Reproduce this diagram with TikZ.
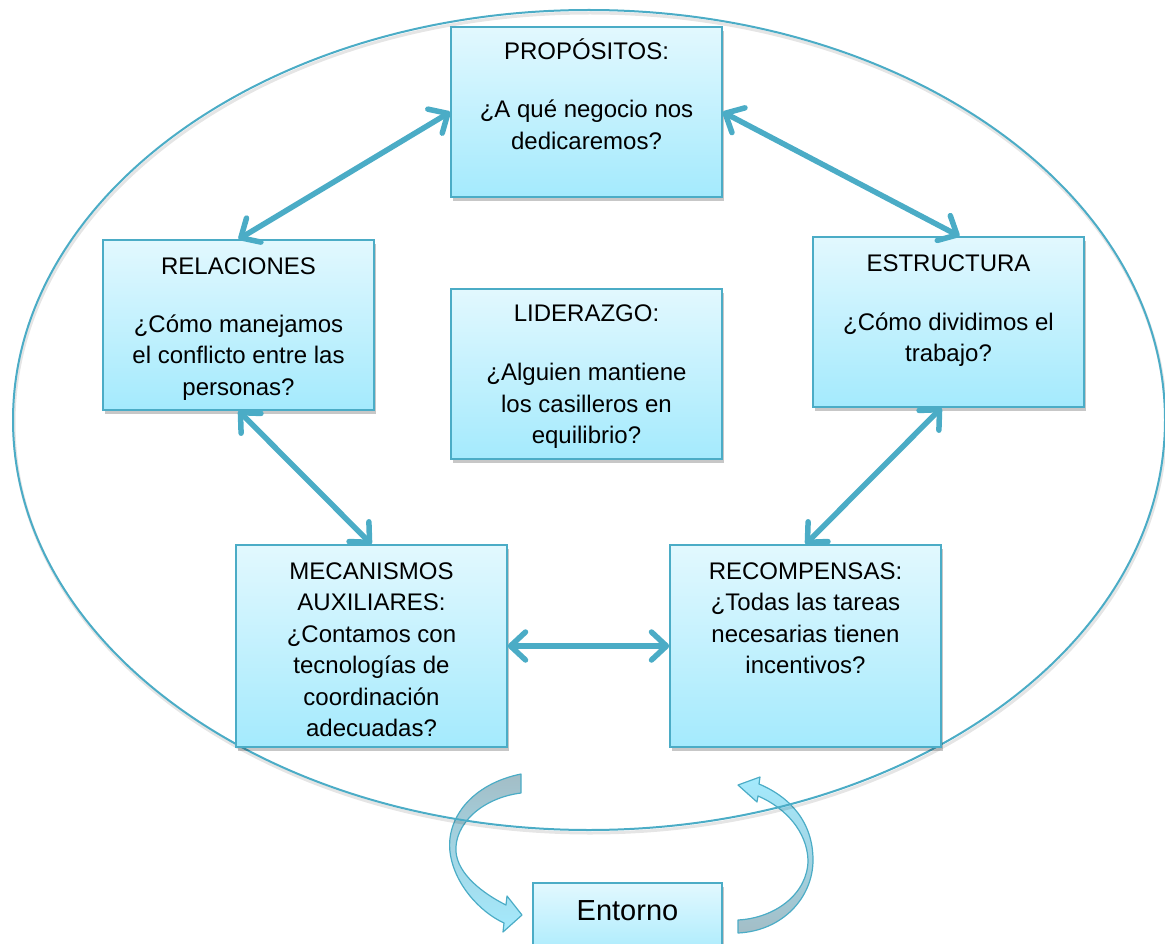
\documentclass[tikz,border=0pt]{standalone}
\usepackage{fontspec}
\setmainfont{Liberation Sans}
\usetikzlibrary{arrows.meta,shadows}
\definecolor{aqua}{HTML}{4BACC6}
\definecolor{boxtop}{HTML}{E2F8FE}
\definecolor{boxbot}{HTML}{A4EAFD}
\definecolor{ribgray}{HTML}{A3BDC6}

\begin{document}
\begin{tikzpicture}[x=1pt,y=-1pt,
  panel/.style={draw=aqua, line width=1.5pt, top color=boxtop, bottom color=boxbot,
    minimum width=271pt, minimum height=170pt, inner sep=0pt,
    drop shadow={shadow xshift=2pt, shadow yshift=-4pt, opacity=0.22, fill=black}},
  tall/.style={minimum height=202pt},
  boxtext/.style={anchor=north, inner sep=0pt, align=center,
    font=\fontsize{24}{31.5}\selectfont},
  duo/.style={draw=aqua, line width=5.5pt, line cap=round,
    {Straight Barb[length=15pt,width=28pt,round]}-{Straight Barb[length=15pt,width=28pt,round]}},
  ribbon/.style={draw=aqua, line width=1.2pt, line join=round}
]
\clip (0,0) rectangle (1165,944);

% curved arrows to and from the environment
\path[ribbon, top color=ribgray, bottom color=boxbot, middle color=ribgray!45!boxbot]
  (521,774) .. controls (472,784) and (446,818) .. (450,852)
  .. controls (454,884) and (480,912) .. (504,923)
  -- (503,932) -- (522,915) -- (507,896) -- (506,905)
  .. controls (482,893) and (458,874) .. (456,852)
  .. controls (454,824) and (482,798) .. (521,793) -- cycle;
\path[ribbon, top color=boxbot, bottom color=ribgray, middle color=ribgray!45!boxbot]
  (738,933) .. controls (782,931) and (813,898) .. (813,860)
  .. controls (813,822) and (790,797) .. (759,784)
  -- (760,777) -- (738,785) -- (757,802) -- (758,796)
  .. controls (786,808) and (807,832) .. (808,860)
  .. controls (808,893) and (776,918) .. (738,920) -- cycle;

% surrounding ellipse
\draw[black, opacity=0.10, line width=3pt] (590,423) ellipse [x radius=576pt, y radius=410pt];
\draw[aqua, line width=2pt] (589,420) ellipse [x radius=576pt, y radius=410pt];

% boxes
\node[panel] (prop) at (586.5,112) {};
\node[panel] (rel) at (238.5,325) {};
\node[panel] (lid) at (586.5,374) {};
\node[panel] (est) at (948.5,322) {};
\node[panel, tall] (mec) at (371.5,646) {};
\node[panel, tall] (rec) at (805.5,646) {};
\node[panel, minimum width=189pt, minimum height=80pt] (ent) at (627.5,923) {};

% box texts
\node[boxtext] (propt) at ([yshift=-11.5pt]prop.north)
  {\strut PROPÓSITOS:\\[26.5pt]¿A qué negocio nos\\dedicaremos?};
\node[boxtext] (relt) at ([yshift=-12.5pt]rel.north)
  {\strut RELACIONES\\[26.5pt]¿Cómo manejamos\\el conflicto entre las\\personas?};
\node[boxtext] (lidt) at ([yshift=-10.5pt]lid.north)
  {\strut LIDERAZGO:\\[28pt]¿Alguien mantiene\\los casilleros en\\equilibrio?};
\node[boxtext] (estt) at ([yshift=-12.5pt]est.north)
  {\strut ESTRUCTURA\\[27.5pt]¿Cómo dividimos el\\trabajo?};
\node[boxtext] (mect) at ([yshift=-12.5pt]mec.north)
  {\strut MECANISMOS\\AUXILIARES:\\¿Contamos con\\tecnologías de\\coordinación\\adecuadas?};
\node[boxtext] (rect) at ([yshift=-12.5pt]rec.north)
  {\strut RECOMPENSAS:\\¿Todas las tareas\\necesarias tienen\\incentivos?};
\node[font=\fontsize{29}{34}\selectfont] (entt) at (627.5,911) {Entorno};

% double-headed connectors
\draw[duo] (prop.west) -- (rel.north);
\draw[duo] (prop.east) -- ([xshift=11pt]est.north);
\draw[duo] (rel.south) -- (mec.north);
\draw[duo] ([xshift=-7pt]est.south) -- (rec.north);
\draw[duo] (mec.east) -- (rec.west);
\end{tikzpicture}
\end{document}
